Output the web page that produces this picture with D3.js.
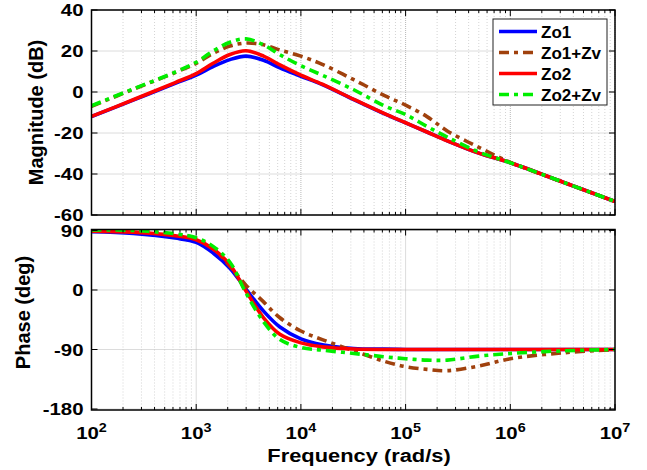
<!DOCTYPE html>
<html>
<head>
<meta charset="utf-8">
<script src="https://cdn.jsdelivr.net/npm/d3@7"></script>
<style>
body { margin: 0; background: #fff; }
svg { display: block; font-family: "Liberation Sans", Arial, sans-serif; font-weight: bold; }
</style>
</head>
<body>
<svg width="647" height="470"></svg>
<script>
const WIDTH = 647
const HEIGHT = 470
const LEFT = 91.5
const RIGHT = 615
const MAG_TOP = 10
const MAG_BOTTOM = 215
const PH_TOP = 229.5
const PH_BOTTOM = 410
const TICK_MAJOR = 6
const TICK_MINOR = 3

// frequency points (rad/s)
const freqs = [100, 250, 630, 1000, 1450, 2100, 3000, 4400, 6300, 1e4, 1.6e4, 3.2e4, 6.3e4, 1e5, 1.6e5, 2.5e5, 5e5, 1e6, 3.2e6, 1e7]

// magnitude (dB)
const magZo1 = [-12, -4.0, 4.2, 8.2, 12.4, 15.8, 17.5, 15.5, 11.8, 7.7, 3.6, -3.7, -10.7, -15.1, -19.5, -23.8, -29.8, -34.5, -44, -53.4]
const magZo1Zv = [-7, 1.3, 9.5, 14.0, 18.8, 22.4, 23.9, 23.0, 20.5, 17.5, 13.5, 6.0, -1.8, -6.4, -12, -19, -27, -34.3, -44, -53.4]
const magZo2 = [-11.9, -3.8, 4.6, 9.0, 14.0, 18.3, 20.1, 17.5, 13.2, 8.2, 3.8, -3.6, -10.6, -15.0, -19.5, -23.8, -29.8, -34.5, -44, -53.4]
const magZo2Zv = [-6.7, 1.5, 9.7, 14.5, 20.0, 24.3, 25.9, 23.0, 18.2, 12.8, 8.2, 1.1, -6.8, -11, -16.8, -22, -29.3, -34.5, -44, -53.4]

// phase (deg)
const phZo1 = [88, 85.5, 78.5, 72, 56, 33, 1, -32, -56, -74, -83, -88.5, -89.5, -90, -90, -90, -90, -90, -90, -90]
const phZo1Zv = [90, 89, 84, 78, 63, 36, 7, -18, -42, -62, -75, -92, -108, -116, -120, -122, -115, -104, -95, -90]
const phZo2 = [89, 87.5, 82, 76, 62, 38, -2, -42, -67, -80, -86, -89.3, -90, -90, -90, -90, -90, -90, -90, -90]
const phZo2Zv = [91, 90, 85, 79, 66, 42, -5, -48, -75, -87, -91, -96, -101, -104, -106, -106, -100, -96, -92, -90]

const seriesNames = ["Zo1", "Zo1+Zv", "Zo2", "Zo2+Zv"]
const magTicks = [-60, -40, -20, 0, 20, 40]
const phaseTicks = [-180, -90, 0, 90]
const decades = [2, 3, 4, 5, 6, 7]

// styles, same order as seriesNames
const seriesStyle = [
    { color: "#0000ff", dash: null },
    { color: "#a0410d", dash: "10,5,4,5" },
    { color: "#ff0000", dash: null },
    { color: "#00ee00", dash: "10,5,4,5" }
]

const svg = d3.select("svg")
svg.append("rect").attr("width", WIDTH).attr("height", HEIGHT).attr("fill", "#fff")

const x = d3.scaleLog().domain([1e2, 1e7]).range([LEFT, RIGHT])
const yMag = d3.scaleLinear().domain([-60, 40]).range([MAG_BOTTOM, MAG_TOP])
const yPh = d3.scaleLinear().domain([-181.5, 91.5]).range([PH_BOTTOM, PH_TOP])

let minorTicks = []
decades.slice(0, -1).forEach(function(d) {
    for (let k = 2; k <= 9; k++) minorTicks.push(k * Math.pow(10, d))
})
const majorTicks = decades.map(d => Math.pow(10, d))

function drawPanel(y, top, bottom, ticks, series, id) {
    let g = svg.append("g")

    // grid
    g.selectAll("line.minor")
        .data(minorTicks)
        .enter().append("line")
        .attr("x1", d => x(d)).attr("x2", d => x(d))
        .attr("y1", top).attr("y2", bottom)
        .attr("stroke", "#d4d4d4")
        .attr("stroke-dasharray", "1,2")
    g.selectAll("line.majx")
        .data(majorTicks)
        .enter().append("line")
        .attr("x1", d => x(d)).attr("x2", d => x(d))
        .attr("y1", top).attr("y2", bottom)
        .attr("stroke", "#b8b8b8")
        .attr("stroke-dasharray", "1,1")
    g.selectAll("line.majy")
        .data(ticks)
        .enter().append("line")
        .attr("x1", LEFT).attr("x2", RIGHT)
        .attr("y1", d => y(d)).attr("y2", d => y(d))
        .attr("stroke", "#b8b8b8")
        .attr("stroke-dasharray", "1,1")

    // curves
    svg.append("clipPath").attr("id", id)
        .append("rect")
        .attr("x", LEFT).attr("y", top)
        .attr("width", RIGHT - LEFT).attr("height", bottom - top)

    let line = d3.line()
        .x((d, i) => x(freqs[i]))
        .y(d => y(d))
        .curve(d3.curveCatmullRom.alpha(0.5))

    g.append("g")
        .attr("clip-path", "url(#" + id + ")")
        .selectAll("path")
        .data(series)
        .enter().append("path")
        .attr("d", d => line(d))
        .attr("fill", "none")
        .attr("stroke", (d, i) => seriesStyle[i].color)
        .attr("stroke-width", 3.6)
        .attr("stroke-dasharray", (d, i) => seriesStyle[i].dash)
        .attr("stroke-linejoin", "round")

    // ticks (inward, all four sides)
    let tk = g.append("g").attr("stroke", "#000").attr("stroke-width", 1)
    minorTicks.forEach(function(v) {
        tk.append("line").attr("x1", x(v)).attr("x2", x(v)).attr("y1", bottom).attr("y2", bottom - TICK_MINOR)
        tk.append("line").attr("x1", x(v)).attr("x2", x(v)).attr("y1", top).attr("y2", top + TICK_MINOR)
    })
    majorTicks.forEach(function(v) {
        tk.append("line").attr("x1", x(v)).attr("x2", x(v)).attr("y1", bottom).attr("y2", bottom - TICK_MAJOR)
        tk.append("line").attr("x1", x(v)).attr("x2", x(v)).attr("y1", top).attr("y2", top + TICK_MAJOR)
    })
    ticks.forEach(function(v) {
        tk.append("line").attr("x1", LEFT).attr("x2", LEFT + TICK_MAJOR).attr("y1", y(v)).attr("y2", y(v))
        tk.append("line").attr("x1", RIGHT).attr("x2", RIGHT - TICK_MAJOR).attr("y1", y(v)).attr("y2", y(v))
    })

    // box
    g.append("rect")
        .attr("x", LEFT).attr("y", top)
        .attr("width", RIGHT - LEFT).attr("height", bottom - top)
        .attr("fill", "none")
        .attr("stroke", "#000")
        .attr("stroke-width", 1.5)

    // y tick labels
    g.selectAll("text.ytick")
        .data(ticks)
        .enter().append("text")
        .attr("text-anchor", "end")
        .attr("font-size", 17)
        .attr("dy", "0.36em")
        .attr("transform", d => "translate(" + (LEFT - 8) + "," + y(d) + ") scale(1.2,1)")
        .text(d => String(d))

    return g
}

drawPanel(yMag, MAG_TOP, MAG_BOTTOM, magTicks, [magZo1, magZo1Zv, magZo2, magZo2Zv], "clipMag")
drawPanel(yPh, PH_TOP, PH_BOTTOM, phaseTicks, [phZo1, phZo1Zv, phZo2, phZo2Zv], "clipPh")

// x tick labels 10^n
svg.selectAll("text.xtick")
    .data(decades)
    .enter().append("text")
    .attr("text-anchor", "middle")
    .attr("font-size", 17)
    .attr("transform", d => "translate(" + x(Math.pow(10, d)) + ",439) scale(1.2,1)")
    .each(function(d) {
        let t = d3.select(this)
        t.append("tspan").text("10")
        t.append("tspan").attr("font-size", 12).attr("dy", -7).text(d)
    })

// axis titles
svg.append("text")
    .attr("text-anchor", "middle")
    .attr("font-size", 19)
    .attr("transform", "translate(" + 359 + ",462) scale(1.15,1)")
    .text("Frequency (rad/s)")

svg.append("text")
    .attr("text-anchor", "middle")
    .attr("font-size", 20)
    .attr("transform", "translate(42.5," + 112.5 + ") rotate(-90)")
    .text("Magnitude (dB)")

svg.append("text")
    .attr("text-anchor", "middle")
    .attr("font-size", 20)
    .attr("transform", "translate(29.5," + 312.5 + ") rotate(-90)")
    .text("Phase (deg)")

// legend
const legend = svg.append("g").attr("transform", "translate(493,19)")
legend.append("rect")
    .attr("width", 114).attr("height", 86)
    .attr("fill", "#fff")
    .attr("stroke", "#222")
    .attr("stroke-width", 1)

const legendRows = legend.selectAll("g.row")
    .data(seriesNames)
    .enter().append("g")
    .attr("transform", (d, i) => "translate(0," + (12.5 + i * 21) + ")")

legendRows.append("line")
    .attr("x1", 6).attr("x2", 44)
    .attr("stroke", (d, i) => seriesStyle[i].color)
    .attr("stroke-width", 3.6)
    .attr("stroke-dasharray", (d, i) => seriesStyle[i].dash)

legendRows.append("text")
    .attr("x", 48)
    .attr("dy", "0.36em")
    .attr("font-size", 17)
    .text(d => d)
</script>
</body>
</html>
